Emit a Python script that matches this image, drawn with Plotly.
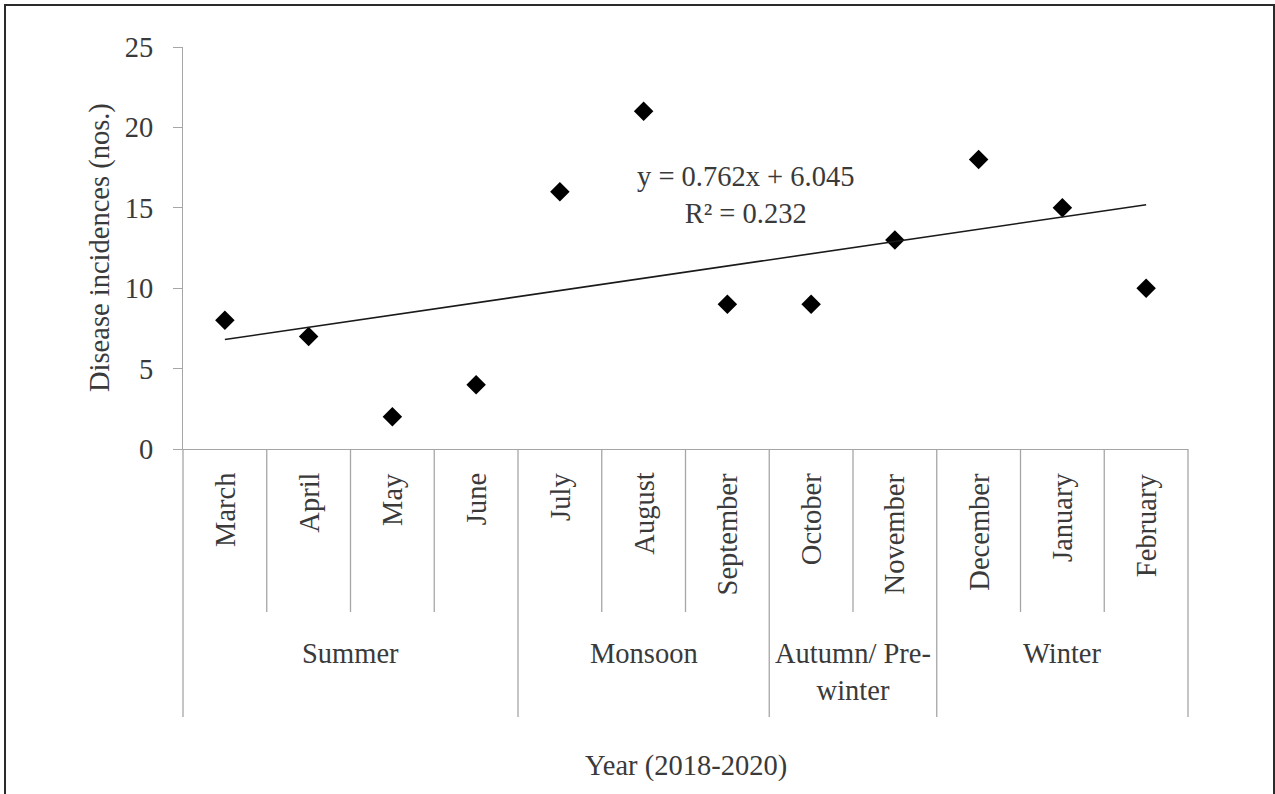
import plotly.graph_objects as go

# Monthly disease incidences (nos.), March through February
months = ["March", "April", "May", "June", "July", "August", "September",
          "October", "November", "December", "January", "February"]
incidences = [8, 7, 2, 4, 16, 21, 9, 9, 13, 18, 15, 10]

# Season groups: label and number of months in each
seasons = ["Summer", "Monsoon", "Autumn/ Pre-<br>winter", "Winter"]
season_lengths = [4, 3, 2, 3]

# Linear trend fitted over month index 1..12
slope = 0.762
intercept = 6.045
r_squared = 0.232

y_ticks = [0, 5, 10, 15, 20, 25]

FONT = "Liberation Serif, Times New Roman, serif"
TEXT = "#3a3a3a"
AXIS = "#a6a6a6"
FS = 28.5

W, H = 1275, 794
ML, MR, MT, MB = 183, 87, 47, 345
PW, PH = W - ML - MR, H - MT - MB


def px_to_paper_y(py):
    return (H - MB - py) / PH


def px_to_paper_x(px):
    return (px - ML) / PW


idx = list(range(1, len(months) + 1))

fig = go.Figure()

# Observed incidences
fig.add_trace(go.Scatter(
    x=idx, y=incidences, mode="markers",
    marker=dict(symbol="diamond", size=15, color="#000000",
                line=dict(width=0)),
    showlegend=False, cliponaxis=False,
))

# Linear trendline from the fitted equation
trend_x = [idx[0], idx[-1]]
trend_y = [slope * v + intercept for v in trend_x]
fig.add_trace(go.Scatter(
    x=trend_x, y=trend_y, mode="lines",
    line=dict(color="#1a1a1a", width=1.6),
    showlegend=False,
))

shapes = []
annotations = []

# Category table below the x axis: month dividers and season dividers
season_edges = [0]
for n in season_lengths:
    season_edges.append(season_edges[-1] + n)

n_months = len(months)
for k in range(n_months + 1):
    xd = k / n_months
    bottom = 717 if k in season_edges else 612
    shapes.append(dict(type="line", xref="x domain", yref="paper",
                       x0=xd, x1=xd, y0=0, y1=px_to_paper_y(bottom),
                       line=dict(color=AXIS, width=1.3)))

# Month labels, rotated, top-aligned under the axis
for i, m in zip(idx, months):
    annotations.append(dict(
        x=i, y=px_to_paper_y(471), xref="x", yref="paper",
        text=m, textangle=-90, showarrow=False,
        xanchor="center", yanchor="top",
        font=dict(family=FONT, size=FS, color=TEXT),
    ))

# Season labels centred in their groups
for s, a, b in zip(seasons, season_edges[:-1], season_edges[1:]):
    annotations.append(dict(
        x=(a + b) / 2 + 0.5, y=px_to_paper_y(636), xref="x", yref="paper",
        text=s, showarrow=False, xanchor="center", yanchor="top",
        font=dict(family=FONT, size=FS, color=TEXT),
    ))

# Trend equation
annotations.append(dict(
    x=px_to_paper_x(745), y=px_to_paper_y(195), xref="paper", yref="paper",
    text=f"y = {slope}x + {intercept}<br>R² = {r_squared}",
    showarrow=False, xanchor="center", yanchor="middle",
    font=dict(family=FONT, size=FS, color=TEXT),
))

# Axis titles
annotations.append(dict(
    x=px_to_paper_x(100), y=0.5, xref="paper", yref="paper",
    text="Disease incidences (nos.)", textangle=-90, showarrow=False,
    xanchor="center", yanchor="middle",
    font=dict(family=FONT, size=FS, color=TEXT),
))
annotations.append(dict(
    x=0.5, y=px_to_paper_y(766), xref="paper", yref="paper",
    text="Year (2018-2020)", showarrow=False,
    xanchor="center", yanchor="middle",
    font=dict(family=FONT, size=FS, color=TEXT),
))

# Outer frame (left, top, right edges)
fl, fr = px_to_paper_x(5), px_to_paper_x(1274)
ft, fb = px_to_paper_y(5), px_to_paper_y(800)
shapes.append(dict(type="path", xref="paper", yref="paper",
                   path=f"M {fl},{fb} L {fl},{ft} L {fr},{ft} L {fr},{fb}",
                   line=dict(color="#2b2b2b", width=2)))

fig.update_layout(
    width=W, height=H,
    margin=dict(l=ML, r=MR, t=MT, b=MB, pad=0),
    paper_bgcolor="#ffffff", plot_bgcolor="#ffffff",
    font=dict(family=FONT, size=FS, color=TEXT),
    shapes=shapes, annotations=annotations,
    showlegend=False,
)
fig.update_xaxes(
    range=[0.5, n_months + 0.5], showgrid=False, zeroline=False,
    showline=True, linecolor=AXIS, linewidth=1.3,
    showticklabels=False, ticks="",
)
fig.update_yaxes(
    range=[0, 25], tickvals=y_ticks, showgrid=False, zeroline=False,
    showline=True, linecolor=AXIS, linewidth=1.3,
    ticks="outside", ticklen=9, tickcolor=AXIS, tickwidth=1.3,
    ticklabelstandoff=14,
    tickfont=dict(family=FONT, size=FS, color=TEXT),
)

fig.write_html("out.html")
